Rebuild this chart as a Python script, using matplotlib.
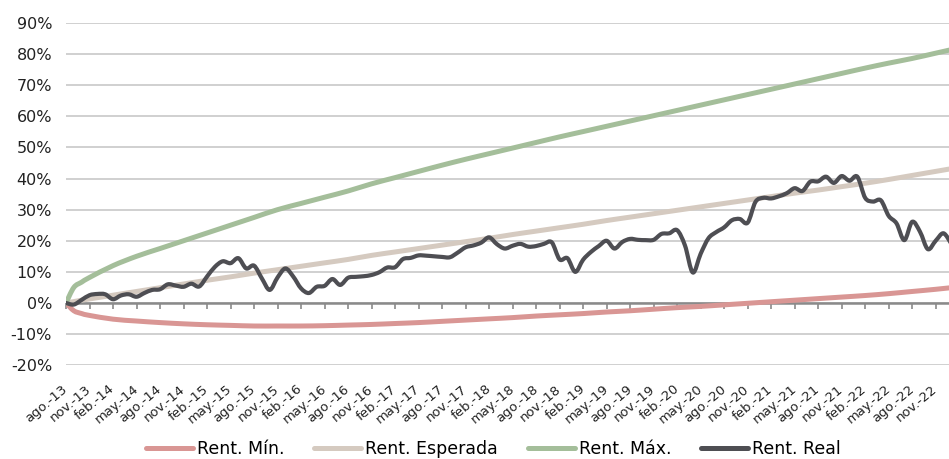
import matplotlib
matplotlib.use("Agg")
import matplotlib.pyplot as plt
from matplotlib.path import Path
from matplotlib.patches import PathPatch
from matplotlib.lines import Line2D

# ---------------- data ----------------
# x values are months since ago.-13
tick_months = list(range(0, 112, 3))
tick_labels = []
_names = ["ago.", "nov.", "feb.", "may."]
_year = 13
for i, m in enumerate(tick_months):
    nm = _names[i % 4]
    if nm == "feb.":
        _year += 1
    tick_labels.append(f"{nm}-{_year:02d}")

curve_months = [0, 1, 2, 3, 6, 9, 12, 15, 18, 21, 24, 27, 30, 33, 36, 39, 42, 45,
                48, 51, 54, 57, 60, 63, 66, 69, 72, 75, 78, 81, 84, 87, 90, 93,
                96, 99, 102, 105, 108, 111, 114]

rent_min = [0, -2.5, -3.4, -4.0, -5.2, -5.8, -6.3, -6.7, -7.0, -7.2, -7.4, -7.4,
            -7.4, -7.3, -7.1, -6.9, -6.6, -6.3, -5.9, -5.5, -5.1, -4.7, -4.2,
            -3.8, -3.4, -2.9, -2.5, -2.0, -1.5, -1.1, -0.6, -0.1, 0.4, 0.9,
            1.4, 1.9, 2.4, 3.0, 3.7, 4.4, 5.2]

rent_esp = [0, 0.45, 0.9, 1.3, 2.5, 3.7, 4.9, 6.1, 7.3, 8.4, 9.6, 10.7, 11.8,
            12.9, 14.0, 15.3, 16.4, 17.5, 18.6, 19.7, 20.8, 22.0, 23.1, 24.2,
            25.3, 26.5, 27.6, 28.7, 29.8, 30.9, 32.0, 33.1, 34.2, 35.3, 36.3,
            37.4, 38.5, 39.7, 41.0, 42.3, 43.6]

rent_max = [0, 5.0, 6.7, 8.2, 12.0, 15.0, 17.5, 20.0, 22.5, 25.0, 27.5, 30.0,
            32.0, 34.0, 36.0, 38.3, 40.3, 42.3, 44.3, 46.2, 48.0, 49.8, 51.6,
            53.4, 55.1, 56.8, 58.5, 60.2, 61.9, 63.6, 65.3, 67.0, 68.7, 70.4,
            72.1, 73.8, 75.5, 77.1, 78.6, 80.3, 82.0]

real_months = list(range(0, 114))
rent_real = [0, -0.5, 1.0, 2.5, 2.9, 2.8, 1.2, 2.4, 2.8, 2.0,
             3.2, 4.2, 4.4, 6.0, 5.6, 5.2, 6.2, 5.3, 8.5, 11.6,
             13.4, 12.8, 14.4, 11.1, 12.0, 7.9, 4.2, 8.2, 11.1, 8.5,
             4.7, 3.2, 5.2, 5.5, 7.7, 5.8, 8.1, 8.4, 8.6, 9.0,
             9.9, 11.4, 11.5, 14.1, 14.5, 15.3, 15.2, 15.0, 14.8, 14.7,
             16.2, 17.9, 18.5, 19.4, 21.1, 18.9, 17.5, 18.4, 19.0, 18.1,
             18.3, 19.0, 19.5, 14.0, 14.4, 10.0, 13.9, 16.4, 18.3, 20.0,
             17.5, 19.6, 20.6, 20.3, 20.2, 20.3, 22.2, 22.4, 23.4, 18.5,
             9.8, 15.8, 20.8, 22.8, 24.3, 26.6, 27.0, 25.8, 32.5, 33.8,
             33.6, 34.3, 35.3, 36.9, 36.0, 39.0, 39.1, 40.6, 38.6, 40.8,
             39.3, 40.6, 33.8, 32.6, 33.0, 28.0, 25.6, 20.2, 26.1, 22.9,
             17.3, 20.0, 22.4, 19.0]

y_ticks = list(range(-20, 91, 10))

series_names = ["Rent. Mín.", "Rent. Esperada", "Rent. Máx.", "Rent. Real"]


def smooth_path(xs, ys):
    """Bezier path through the data points (Catmull-Rom style, like Excel smoothed lines)."""
    pts = list(zip(xs, ys))
    n = len(pts)
    verts = [pts[0]]
    codes = [Path.MOVETO]
    for i in range(n - 1):
        p0 = pts[i - 1] if i > 0 else pts[i]
        p1 = pts[i]
        p2 = pts[i + 1]
        p3 = pts[i + 2] if i + 2 < n else pts[i + 1]
        c1 = (p1[0] + (p2[0] - p0[0]) / 6, p1[1] + (p2[1] - p0[1]) / 6)
        c2 = (p2[0] - (p3[0] - p1[0]) / 6, p2[1] - (p3[1] - p1[1]) / 6)
        verts += [c1, c2, p2]
        codes += [Path.CURVE4] * 3
    return Path(verts, codes)


# ---------------- figure ----------------
W, H = 949, 459
fig = plt.figure(figsize=(W / 100, H / 100), dpi=100)
ax = fig.add_axes([66 / W, (H - 365.2) / H, 1 - 66 / W, (365.2 - 23) / H])

c_min = "#D99694"
c_esp = "#D5CAC0"
c_max = "#A4BE9A"
c_real = "#4E4E53"

styles = [
    (curve_months, rent_min, c_min, 3.6, 3),
    (curve_months, rent_esp, c_esp, 3.6, 3),
    (curve_months, rent_max, c_max, 3.6, 3),
    (real_months, rent_real, c_real, 3.0, 4),
]
handles = []
for (xs, ys, col, lw, z), name in zip(styles, series_names):
    patch = PathPatch(smooth_path(xs, ys), facecolor="none", edgecolor=col, lw=lw,
                      capstyle="round", joinstyle="round", zorder=z)
    ax.add_patch(patch)
    handles.append(Line2D([], [], color=col, lw=3.6, solid_capstyle="round"))

ax.set_xlim(0, 112.7)
ax.set_ylim(-20, 90)
ax.set_yticks(y_ticks)
ax.set_yticklabels([f"{v}%" for v in y_ticks], fontsize=11.5, color="#222222")
ax.tick_params(axis="y", length=0, pad=10)
ax.yaxis.grid(True, color="#C4C4C4", lw=1.1)
ax.set_axisbelow(True)

for s in ax.spines.values():
    s.set_visible(False)

ax.set_xticks(tick_months)
ax.set_xticklabels(tick_labels, fontsize=9.5, color="#222222", rotation=40,
                   ha="right", va="center", rotation_mode="anchor")
ax.tick_params(axis="x", length=0, pad=16)

# zero line with ticks
ax.axhline(0, color="#8A8A8A", lw=1.8, zorder=2)
sec = ax.secondary_xaxis(20 / 110)
sec.spines["bottom"].set_visible(False)
sec.set_xticks(tick_months)
sec.set_xticklabels([])
sec.tick_params(axis="x", direction="out", length=4.5, width=1.2, color="#8A8A8A")

fig.legend(handles, series_names, loc="center", bbox_to_anchor=(0.52, 0.022), ncol=4,
           frameon=False, fontsize=12.5, handlelength=2.7, handletextpad=0.25,
           columnspacing=1.7, borderpad=0)

fig.savefig("out.png", dpi=100)
